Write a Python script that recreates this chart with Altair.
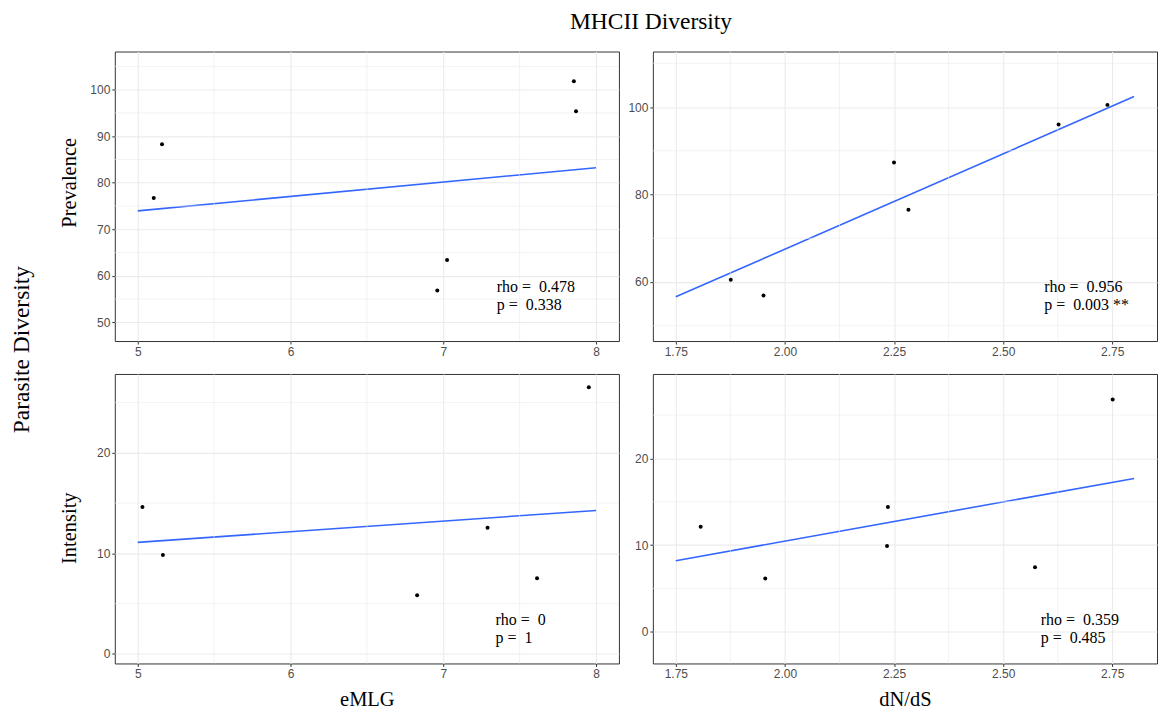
import altair as alt
import pandas as pd

# ---------------- data ----------------
# Prevalence vs eMLG
prev_emlg_x = [7.855, 7.869, 5.159, 5.105, 7.025, 6.961]
prev_emlg_y = [101.8, 95.36, 88.3, 76.75, 63.4, 56.85]
# Prevalence vs dN/dS
prev_dnds_x = [1.876, 1.951, 2.250, 2.283, 2.627, 2.739]
prev_dnds_y = [60.5, 56.9, 87.3, 76.5, 96.0, 100.5]
# Intensity vs eMLG
int_emlg_x = [5.031, 5.165, 6.829, 7.29, 7.614, 7.953]
int_emlg_y = [14.6, 9.83, 5.83, 12.55, 7.52, 26.52]
# Intensity vs dN/dS
int_dnds_x = [1.807, 1.955, 2.236, 2.234, 2.573, 2.751]
int_dnds_y = [12.13, 6.14, 14.40, 9.90, 7.45, 26.8]

# fitted lines (end points)
emlg_line_x = [5.0, 8.0]
dnds_line_x = [1.75, 2.80]
prev_emlg_line_y = [73.97, 83.24]
int_emlg_line_y = [11.09, 14.27]
prev_dnds_line_y = [56.6, 102.4]
int_dnds_line_y = [8.21, 17.7]

# annotations
NB = "\u00a0"
prev_emlg_label = f"rho = {NB}0.478\np = {NB}0.338"
prev_dnds_label = f"rho = {NB}0.956\np = {NB}0.003 **"
int_emlg_label = f"rho = {NB}0\np = {NB}1"
int_dnds_label = f"rho = {NB}0.359\np = {NB}0.485"
prev_emlg_label_pos = [7.35, 56.5]
prev_dnds_label_pos = [2.594, 57.7]
int_emlg_label_pos = [7.342, 2.88]
int_dnds_label_pos = [2.586, 0.81]

# axes
emlg_ticks = [5, 6, 7, 8]
emlg_minor = [5.5, 6.5, 7.5]
dnds_ticks = [1.75, 2.00, 2.25, 2.50, 2.75]
dnds_minor = [1.875, 2.125, 2.375, 2.625]
prev_emlg_yticks = [50, 60, 70, 80, 90, 100]
prev_emlg_yminor = [55, 65, 75, 85, 95, 105]
prev_dnds_yticks = [60, 80, 100]
prev_dnds_yminor = [50, 70, 90, 110]
int_yticks = [0, 10, 20]
int_yminor = [5, 15, 25]

emlg_domain = [4.85, 8.15]
dnds_domain = [1.6975, 2.8525]
prev_emlg_ydomain = [46.0, 108.2]
prev_dnds_ydomain = [46.5, 112.7]
int_emlg_ydomain = [-0.96, 27.85]
int_dnds_ydomain = [-3.65, 29.75]

SERIF = "Liberation Serif"
SANS = "Liberation Sans"
W, H = 505, 290


def panel(px, py, lx, ly, label, label_pos, xdom, ydom, xticks, xminor, xfmt,
          yticks, yminor, xtitle=None, ytitle=None, ytitle_y=None):
    pts = pd.DataFrame({"x": px, "y": py})
    ln = pd.DataFrame({"x": lx, "y": ly})
    lab = pd.DataFrame({"x": [label_pos[0]], "y": [label_pos[1]], "t": [label]})
    xs = alt.Scale(domain=xdom, nice=False, zero=False)
    ys = alt.Scale(domain=ydom, nice=False, zero=False)

    common = dict(grid=True, domain=False, tickColor="#333333", tickSize=3,
                  tickWidth=1, labelColor="#4D4D4D", labelFont=SANS,
                  labelFontSize=12, labelPadding=2, gridColor="#EBEBEB",
                  gridWidth=1.1)
    xaxis_kw = dict(values=xticks, format=xfmt, **common)
    if xtitle:
        xaxis_kw.update(title=xtitle, titleFont=SERIF, titleFontSize=20.5,
                        titleFontWeight="normal", titleColor="black",
                        titleBaseline="alphabetic", titleY=42)
    else:
        xaxis_kw.update(title=None)
    yaxis_kw = dict(values=yticks, **common)
    if ytitle:
        yaxis_kw.update(title=ytitle, titleFont=SERIF, titleFontSize=20.5,
                        titleFontWeight="normal", titleColor="black",
                        titleBaseline="alphabetic", titleAngle=270,
                        titleX=-39, titleY=ytitle_y, titleAlign="center")
    else:
        yaxis_kw.update(title=None)
    xaxis = alt.Axis(**xaxis_kw)
    yaxis = alt.Axis(**yaxis_kw)

    line = alt.Chart(ln).mark_line(color="#3366FF", strokeWidth=1.6).encode(
        x=alt.X("x:Q", scale=xs, axis=xaxis),
        y=alt.Y("y:Q", scale=ys, axis=yaxis))
    xmin = alt.Chart(pd.DataFrame({"x": xminor})).mark_rule(
        color="#EBEBEB", strokeWidth=0.6).encode(
        x=alt.X("x:Q", scale=xs, axis=xaxis))
    ymin = alt.Chart(pd.DataFrame({"y": yminor})).mark_rule(
        color="#EBEBEB", strokeWidth=0.6).encode(
        y=alt.Y("y:Q", scale=ys, axis=yaxis))
    points = alt.Chart(pts).mark_circle(color="black", opacity=1, size=16).encode(
        x=alt.X("x:Q", scale=xs, axis=xaxis), y=alt.Y("y:Q", scale=ys, axis=yaxis))
    text = alt.Chart(lab).mark_text(
        font=SERIF, fontSize=16, color="black", align="left",
        baseline="alphabetic", lineBreak="\n", lineHeight=18).encode(
        x=alt.X("x:Q", scale=xs, axis=xaxis), y=alt.Y("y:Q", scale=ys, axis=yaxis),
        text="t:N")
    return alt.layer(line, xmin, ymin, points, text).properties(width=W, height=H)


tl = panel(prev_emlg_x, prev_emlg_y, emlg_line_x, prev_emlg_line_y,
           prev_emlg_label, prev_emlg_label_pos, emlg_domain, prev_emlg_ydomain,
           emlg_ticks, emlg_minor, "d", prev_emlg_yticks, prev_emlg_yminor,
           ytitle="Prevalence", ytitle_y=131)
tr = panel(prev_dnds_x, prev_dnds_y, dnds_line_x, prev_dnds_line_y,
           prev_dnds_label, prev_dnds_label_pos, dnds_domain, prev_dnds_ydomain,
           dnds_ticks, dnds_minor, ".2f", prev_dnds_yticks, prev_dnds_yminor)
bl = panel(int_emlg_x, int_emlg_y, emlg_line_x, int_emlg_line_y,
           int_emlg_label, int_emlg_label_pos, emlg_domain, int_emlg_ydomain,
           emlg_ticks, emlg_minor, "d", int_yticks, int_yminor,
           xtitle="eMLG", ytitle="Intensity", ytitle_y=154)
br = panel(int_dnds_x, int_dnds_y, dnds_line_x, int_dnds_line_y,
           int_dnds_label, int_dnds_label_pos, dnds_domain, int_dnds_ydomain,
           dnds_ticks, dnds_minor, ".2f", int_yticks, int_yminor,
           xtitle="dN/dS")

grid = alt.concat(tl, tr, bl, br, columns=2, spacing={"row": 33, "column": 34},
                  bounds="flush").properties(
    title=alt.TitleParams("Parasite Diversity", orient="left", anchor="middle",
                          font=SERIF, fontSize=23.5, fontWeight="normal",
                          color="black", offset=25.5, dx=31))

chart = alt.vconcat(grid).properties(
    title=alt.TitleParams("MHCII Diversity", anchor="middle", font=SERIF,
                          fontSize=23.5, fontWeight="normal", color="black",
                          offset=17.5, dx=67),
    padding={"left": 10, "top": 9, "right": 0, "bottom": 0},
    background="white",
).configure_view(stroke="#333333", strokeWidth=1)

chart.save("out.html", embed_options={"renderer": "svg", "actions": False})
